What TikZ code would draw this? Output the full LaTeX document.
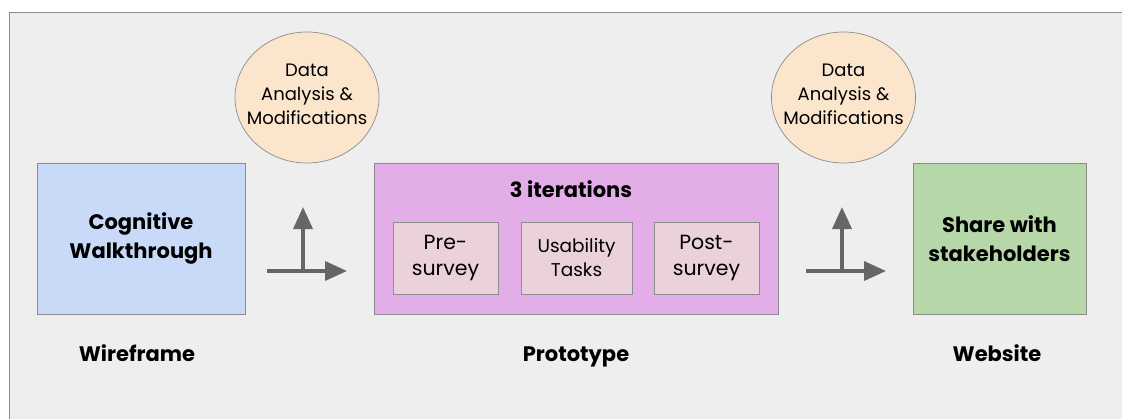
\documentclass[tikz,border=0pt]{standalone}
\usepackage{fontspec}
\setmainfont{Poppins}
\usetikzlibrary{shapes.geometric,arrows.meta}
\definecolor{panel}{HTML}{EEEEEE}
\definecolor{edge}{HTML}{8C8C8C}
\definecolor{bluebox}{HTML}{C9DAF8}
\definecolor{purplebox}{HTML}{E3AEE8}
\definecolor{pinkbox}{HTML}{EAD1DC}
\definecolor{greenbox}{HTML}{B6D7A8}
\definecolor{peach}{HTML}{FCE5CD}
\definecolor{arrowgray}{HTML}{666666}
\tikzset{
  stagebox/.style={draw=edge, line width=0.9pt, minimum width=#1, minimum height=151pt, align=center, inner sep=0pt},
  substep/.style={draw=edge, line width=0.9pt, fill=pinkbox, minimum width=#1, minimum height=72pt, align=center, inner sep=0pt, font=\fontsize{20.5}{26}\selectfont},
  bubble/.style={ellipse, draw=edge, line width=0.7pt, fill=peach, minimum width=144pt, minimum height=131pt, inner sep=0pt},
  bubbletext/.style={align=center, inner sep=0pt, font=\fontsize{18}{24}\selectfont},
  boldlabel/.style={font=\fontsize{21}{29}\selectfont\bfseries, align=center},
  flow/.style={draw=arrowgray, line width=3.6pt, -{Triangle[length=22pt,width=19pt]}},
}
\begin{document}
\begin{tikzpicture}[x=1pt,y=-1pt]
\useasboundingbox (0,0) rectangle (1122,418);
\begin{scope}
\clip (0,0) rectangle (1122,418);
\draw[edge, fill=panel, line width=1pt] (9,12) rectangle (1135,430);
\end{scope}

% stage boxes
\node[stagebox=208pt, fill=bluebox, boldlabel] (wire) at (141,238.5) {Cognitive\\Walkthrough};
\node[stagebox=404pt, fill=purplebox] (proto) at (576,238.5) {};
\node[stagebox=173pt, fill=greenbox, boldlabel] (site) at (999.5,238.5) {Share with\\stakeholders};

% contents of the prototype box
\node[boldlabel, anchor=base] (iter) at (571,197) {3 iterations};
\node[substep=105pt] (pre) at (445.5,258) {Pre-\\survey};
\node[substep=111pt, font=\fontsize{18.5}{24}\selectfont] (task) at (576.5,258) {Usability\\Tasks};
\node[substep=105pt] (post) at (706.5,258) {Post-\\survey};

% analysis bubbles
\node[bubble] (anaA) at (307,97.5) {};
\node[bubbletext] (anaAtxt) at ([yshift=3.5pt]anaA.center) {Data\\Analysis \&\\Modifications};
\node[bubble] (anaB) at (843.5,97.5) {};
\node[bubbletext] (anaBtxt) at ([yshift=3.5pt]anaB.center) {Data\\Analysis \&\\Modifications};

% stage labels
\node[boldlabel, anchor=base] (lwire) at (137,361) {Wireframe};
\node[boldlabel, anchor=base] (lproto) at (576,361) {Prototype};
\node[boldlabel, anchor=base] (lsite) at (997,361) {Website};

% forked arrows between stages
\coordinate (a1s) at (267,271);
\coordinate (a1e) at (347,271);
\coordinate (a1f) at (303,271);
\coordinate (a1u) at (303,207);
\draw[flow] (a1s) -- (a1e);
\draw[flow] (a1f) -- (a1u);

\coordinate (a2s) at (806,271);
\coordinate (a2e) at (886,271);
\coordinate (a2f) at (842,271);
\coordinate (a2u) at (842,207);
\draw[flow] (a2s) -- (a2e);
\draw[flow] (a2f) -- (a2u);
\end{tikzpicture}
\end{document}
